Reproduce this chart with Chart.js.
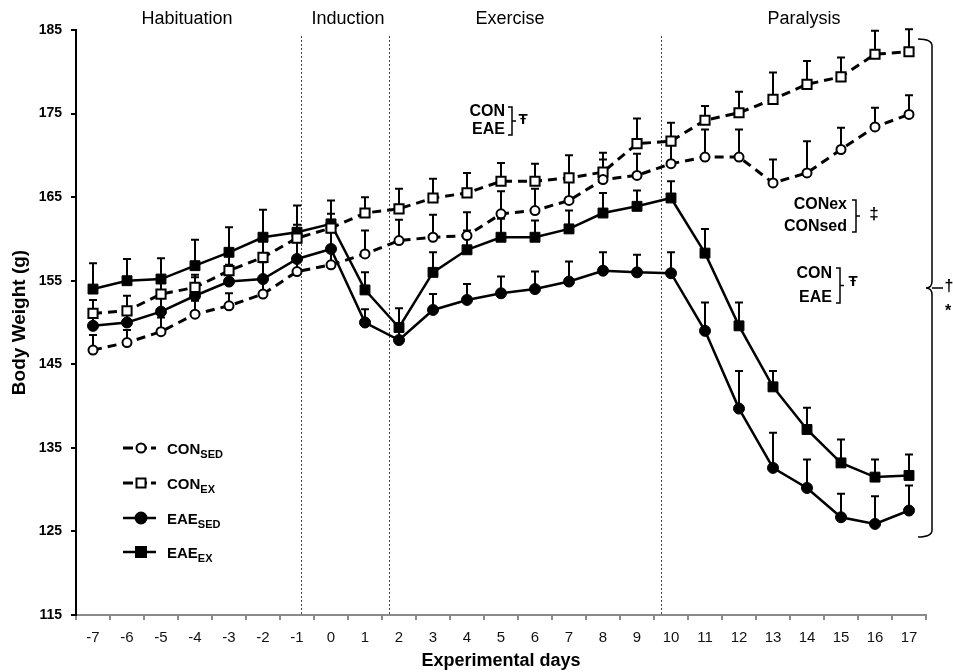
<!DOCTYPE html>
<html>
<head>
<meta charset="utf-8">
<script src="https://cdn.jsdelivr.net/npm/chart.js@4.4.1/dist/chart.umd.min.js"></script>
<style>
html,body{margin:0;padding:0;background:#fff;}
#wrap{width:953px;height:672px;position:relative;}
</style>
</head>
<body>
<div id="wrap"><canvas id="c" width="953" height="672"></canvas></div>
<script>
// ---- data ----
const days = ['-7','-6','-5','-4','-3','-2','-1','0','1','2','3','4','5','6','7','8','9','10','11','12','13','14','15','16','17'];
const conSed = [146.7,147.6,148.9,151.0,152.0,153.4,156.1,156.9,158.2,159.8,160.2,160.4,163.0,163.4,164.6,167.1,167.6,169.0,169.8,169.8,166.7,167.9,170.7,173.4,174.9];
const conEx  = [151.1,151.4,153.4,154.2,156.2,157.8,160.1,161.3,163.1,163.6,164.9,165.5,166.9,166.9,167.3,168.0,171.4,171.7,174.2,175.1,176.7,178.5,179.4,182.1,182.4];
const eaeSed = [149.6,150.0,151.3,153.2,154.9,155.2,157.6,158.8,150.0,147.9,151.5,152.7,153.5,154.0,154.9,156.2,156.0,155.9,149.0,139.7,132.6,130.2,126.7,125.9,127.5];
const eaeEx  = [154.0,155.0,155.2,156.8,158.4,160.2,160.8,161.8,153.9,149.4,156.0,158.7,160.2,160.2,161.2,163.1,163.9,164.9,158.3,149.6,142.3,137.2,133.2,131.5,131.7];
const conSedErr = [1.8,1.5,1.7,1.6,1.5,1.6,1.6,2.0,2.8,2.5,2.7,2.8,2.7,2.6,2.5,2.4,2.6,2.5,3.3,3.3,2.8,3.8,2.6,2.3,2.3];
const conExErr  = [1.6,1.8,2.2,1.2,2.0,2.5,1.6,1.7,1.9,2.4,2.3,2.4,2.2,2.1,2.7,2.3,3.0,2.2,1.7,2.5,3.2,2.8,2.3,2.8,2.7];
const eaeSedErr = [1.5,1.8,2.5,2.5,2.0,2.0,2.0,2.0,1.6,2.0,1.9,1.9,2.0,2.1,2.4,2.2,2.1,2.5,3.4,4.5,4.2,3.4,2.8,3.3,3.0];
const eaeExErr  = [3.1,2.6,2.5,3.1,3.0,3.3,3.2,2.8,2.1,2.3,2.4,2.3,2.2,2.0,2.2,2.4,1.9,2.0,2.9,2.8,1.9,2.6,2.8,2.1,2.5];
const phaseNames = ['Habituation','Induction','Exercise','Paralysis'];
const phaseDividers = [-0.88, 1.72, 9.7]; // experimental day where each phase boundary is drawn
const yTicks = [115,125,135,145,155,165,175,185];

const FF = '"Liberation Sans", Arial, Helvetica, sans-serif';

const extras = {
  id: 'extras',
  beforeDatasetsDraw(chart) {
    const {ctx, scales:{x, y}, chartArea} = chart;
    const first = Number(days[0]);
    ctx.save();
    // phase dividers
    ctx.strokeStyle = '#444'; ctx.lineWidth = 1; ctx.setLineDash([2,2]);
    phaseDividers.forEach(d => {
      const px = Math.round(x.getPixelForValue(d - first)) + 0.5;
      ctx.beginPath(); ctx.moveTo(px, chartArea.top + 6); ctx.lineTo(px, chartArea.bottom); ctx.stroke();
    });
    ctx.setLineDash([]);
    // error bars (upper)
    ctx.strokeStyle = '#000'; ctx.lineWidth = 2;
    chart.data.datasets.forEach((ds, i) => {
      const meta = chart.getDatasetMeta(i);
      meta.data.forEach((pt, j) => {
        const top = y.getPixelForValue(ds.data[j] + ds.errors[j]);
        ctx.beginPath();
        ctx.moveTo(pt.x, pt.y); ctx.lineTo(pt.x, top);
        ctx.moveTo(pt.x - 4, top); ctx.lineTo(pt.x + 4, top);
        ctx.stroke();
      });
    });
    ctx.restore();
  },
  afterDraw(chart) {
    const {ctx, scales:{x}} = chart;
    ctx.save();
    ctx.fillStyle = '#000';
    // phase titles
    ctx.font = '18px ' + FF; ctx.textAlign = 'center'; ctx.textBaseline = 'middle';
    const phaseCenters = [187, 348, 510, 804];
    phaseNames.forEach((n, i) => ctx.fillText(n, phaseCenters[i], 19));

    // annotation helper
    function bracketNote(lines, rightX, ys, bx, by0, by1, sym, symX, symY, symSize) {
      ctx.font = 'bold 16px ' + FF; ctx.textAlign = 'right'; ctx.textBaseline = 'middle';
      lines.forEach((t, k) => ctx.fillText(t, rightX, ys[k]));
      ctx.strokeStyle = '#000'; ctx.lineWidth = 1.5;
      ctx.beginPath();
      ctx.moveTo(bx - 4, by0); ctx.lineTo(bx, by0); ctx.lineTo(bx, by1); ctx.lineTo(bx - 4, by1);
      const mid = (by0 + by1) / 2;
      ctx.moveTo(bx, mid); ctx.lineTo(bx + 4, mid);
      ctx.stroke();
      ctx.font = 'bold ' + symSize + 'px ' + FF; ctx.textAlign = 'center';
      ctx.fillText(sym, symX, symY);
    }
    bracketNote(['CON','EAE'], 505, [112, 129.5], 512, 107, 135, 'Ŧ', 523, 120, 15);
    bracketNote(['CONex','CONsed'], 847, [205, 227], 856, 200, 232, '‡', 874, 214, 17);
    bracketNote(['CON','EAE'], 832, [274, 298], 840, 268, 303, 'Ŧ', 853, 282, 15);

    // big bracket on the right
    ctx.strokeStyle = '#000'; ctx.lineWidth = 1.5;
    ctx.beginPath();
    ctx.moveTo(918, 39); ctx.quadraticCurveTo(932, 39, 932, 46);
    ctx.lineTo(932, 281); ctx.quadraticCurveTo(932, 288, 926, 288);
    ctx.moveTo(926, 288); ctx.quadraticCurveTo(932, 288, 932, 295);
    ctx.lineTo(932, 530); ctx.quadraticCurveTo(932, 537, 918, 537);
    ctx.moveTo(932, 288); ctx.lineTo(943, 288);
    ctx.stroke();
    ctx.font = 'bold 16px ' + FF; ctx.textAlign = 'center'; ctx.textBaseline = 'middle';
    ctx.fillText('†', 949, 287);
    ctx.fillText('*', 948, 312);

    // legend
    const items = [
      {main:'CON', sub:'SED', dash:true, style:'circle', fill:false, y:448},
      {main:'CON', sub:'EX', dash:true, style:'rect', fill:false, y:483},
      {main:'EAE', sub:'SED', dash:false, style:'circle', fill:true, y:518},
      {main:'EAE', sub:'EX', dash:false, style:'rect', fill:true, y:552}
    ];
    items.forEach(it => {
      ctx.strokeStyle = '#000';
      ctx.lineWidth = it.dash ? 3 : 2.5;
      ctx.setLineDash(it.dash ? [10,4] : []);
      ctx.beginPath(); ctx.moveTo(123, it.y); ctx.lineTo(156, it.y); ctx.stroke();
      ctx.setLineDash([]);
      ctx.lineWidth = 2;
      ctx.fillStyle = it.fill ? '#000' : '#fff';
      ctx.beginPath();
      if (it.style === 'circle') {
        const r = it.fill ? 5.5 : 4.5;
        ctx.arc(141, it.y, r, 0, Math.PI * 2);
      } else {
        const s = it.fill ? 5 : 4.5;
        ctx.rect(141 - s, it.y - s, 2 * s, 2 * s);
      }
      ctx.fill(); ctx.stroke();
      ctx.fillStyle = '#000';
      ctx.textAlign = 'left'; ctx.textBaseline = 'alphabetic';
      ctx.font = 'bold 15px ' + FF;
      ctx.fillText(it.main, 167, it.y + 6);
      const w = ctx.measureText(it.main).width;
      ctx.font = 'bold 11px ' + FF;
      ctx.fillText(it.sub, 167 + w, it.y + 10);
    });
    ctx.restore();
  }
};

new Chart(document.getElementById('c'), {
  type: 'line',
  data: {
    labels: days,
    datasets: [
      {label:'CON_SED', data: conSed, errors: conSedErr, borderColor:'#000', borderWidth:3, borderDash:[9,6],
       pointStyle:'circle', pointRadius:4.5, pointBackgroundColor:'#fff', pointBorderColor:'#000', pointBorderWidth:2, tension:0, fill:false},
      {label:'CON_EX', data: conEx, errors: conExErr, borderColor:'#000', borderWidth:3, borderDash:[9,6],
       pointStyle:'rect', pointRadius:6.5, pointBackgroundColor:'#fff', pointBorderColor:'#000', pointBorderWidth:2, tension:0, fill:false},
      {label:'EAE_SED', data: eaeSed, errors: eaeSedErr, borderColor:'#000', borderWidth:2.5,
       pointStyle:'circle', pointRadius:5.5, pointBackgroundColor:'#000', pointBorderColor:'#000', pointBorderWidth:1, tension:0, fill:false},
      {label:'EAE_EX', data: eaeEx, errors: eaeExErr, borderColor:'#000', borderWidth:2.5,
       pointStyle:'rect', pointRadius:7, pointBackgroundColor:'#000', pointBorderColor:'#000', pointBorderWidth:1, tension:0, fill:false}
    ]
  },
  options: {
    responsive: false,
    animation: false,
    events: [],
    layout: {padding: {left: 0, right: 27, top: 30, bottom: 0}},
    plugins: {legend: {display: false}, tooltip: {enabled: false}},
    scales: {
      x: {
        type: 'category',
        offset: true,
        grid: {display: true, drawOnChartArea: false, drawTicks: true, tickLength: 5, color: '#8a8a8a', lineWidth: 2, offset: true},
        border: {display: true, color: '#8a8a8a', width: 2},
        ticks: {color: '#111', font: {family: FF, size: 15}, padding: 9, maxRotation: 0, autoSkip: false},
        title: {display: true, text: 'Experimental days', color: '#000', font: {family: FF, size: 18, weight: 'bold'}, padding: {top: 0, bottom: 0}},
        afterFit(s) { s.height = 57; }
      },
      y: {
        min: 115, max: 185,
        afterBuildTicks(s) { s.ticks = yTicks.map(v => ({value: v})); },
        grid: {display: true, drawOnChartArea: false, drawTicks: true, tickLength: 5, color: '#000', lineWidth: 2},
        border: {display: true, color: '#000', width: 2},
        ticks: {color: '#000', font: {family: FF, size: 14, weight: 'bold'}, padding: 9},
        title: {display: true, text: 'Body Weight (g)', color: '#000', font: {family: FF, size: 19, weight: 'bold'}, padding: {top: 8, bottom: 0}},
        afterFit(s) { s.width = 76; }
      }
    }
  },
  plugins: [extras]
});
</script>
</body>
</html>
